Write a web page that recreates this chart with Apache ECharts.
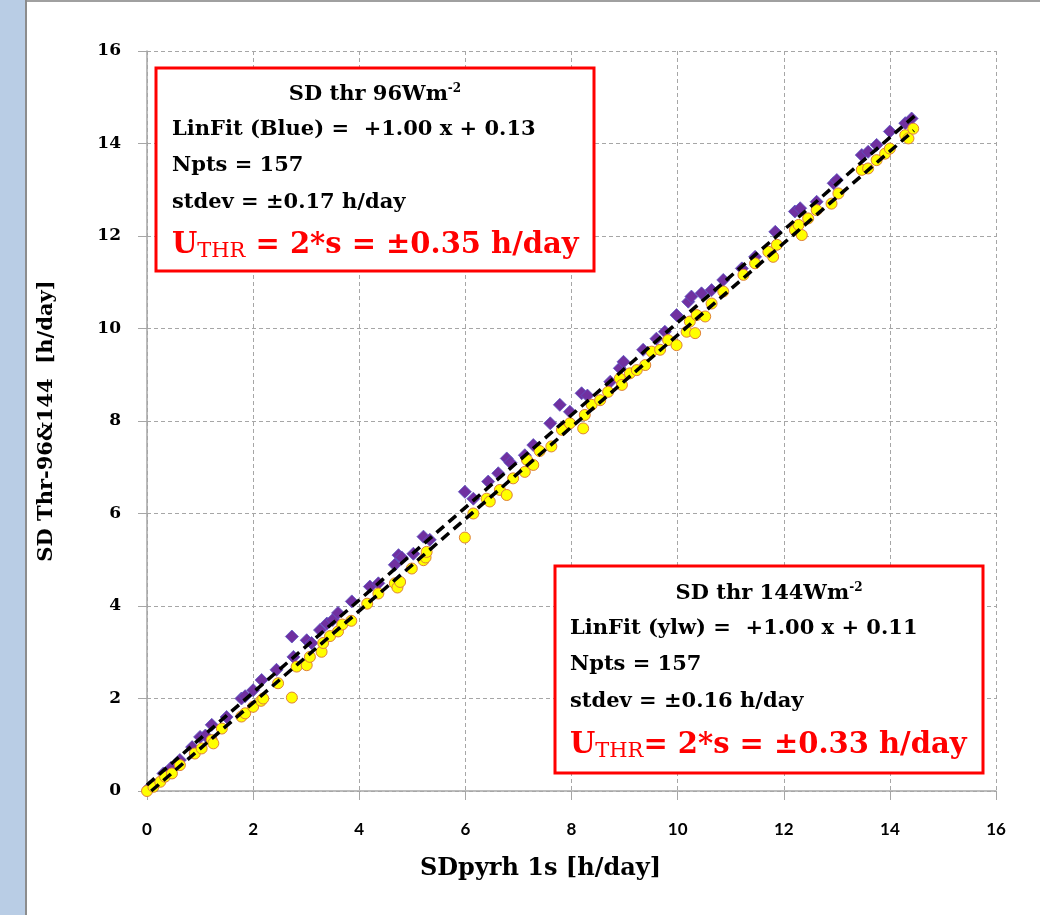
<!DOCTYPE html>
<html>
<head>
<meta charset="utf-8">
<script src="https://cdn.jsdelivr.net/npm/echarts@6/dist/echarts.min.js"></script>
<style>
html,body{margin:0;padding:0;background:#fff;}
#c{width:1040px;height:915px;}
</style>
</head>
<body>
<div id="c"></div>
<script>
// ---- data ----
var xTicks = [0, 2, 4, 6, 8, 10, 12, 14, 16];
var yTicks = [0, 2, 4, 6, 8, 10, 12, 14, 16];

// SD thr 96 W/m2 (purple diamonds) : [SDpyrh, SDthr]
var thr96 = [
 [0.05,0.08],[0.31,0.38],[0.45,0.5],[0.62,0.67],[0.85,0.95],[1.0,1.17],[1.1,1.2],[1.22,1.43],
 [1.5,1.6],[1.78,2.0],[1.85,2.05],[2.0,2.18],[2.16,2.4],[2.44,2.62],[2.73,3.34],[2.76,2.9],
 [3.01,3.26],[3.1,3.2],[3.26,3.48],[3.39,3.62],[3.5,3.7],[3.6,3.85],[3.86,4.1],[4.2,4.42],
 [4.36,4.49],[4.67,4.89],[4.74,5.1],[4.8,5.05],[5.02,5.13],[5.21,5.5],[5.33,5.43],[5.99,6.47],
 [6.15,6.32],[6.43,6.69],[6.62,6.87],[6.78,7.19],[6.85,7.1],[7.12,7.26],[7.28,7.48],[7.6,7.95],
 [7.78,8.35],[7.97,8.2],[8.19,8.6],[8.3,8.55],[8.73,8.85],[8.91,9.14],[8.98,9.28],[9.35,9.54],
 [9.6,9.78],[9.76,9.93],[9.98,10.29],[10.2,10.58],[10.26,10.69],[10.45,10.76],[10.64,10.83],
 [10.86,11.05],[11.21,11.3],[11.46,11.55],[11.84,12.09],[12.21,12.53],[12.31,12.6],[12.62,12.74],
 [12.94,13.14],[13.0,13.21],[13.47,13.75],[13.59,13.82],[13.75,13.97],[14.0,14.26],[14.29,14.44],
 [14.41,14.54]
];

// SD thr 144 W/m2 (yellow circles)
var thr144 = [
 [0,0],[0.12,0.09],[0.25,0.2],[0.34,0.31],[0.47,0.38],[0.62,0.56],[0.9,0.81],[1.03,0.92],
 [1.22,1.1],[1.25,1.03],[1.41,1.35],[1.78,1.61],[1.85,1.68],[2.0,1.82],[2.15,1.95],[2.19,2.0],
 [2.47,2.33],[2.73,2.02],[2.82,2.69],[3.01,2.72],[3.07,2.9],[3.29,3.01],[3.32,3.2],[3.45,3.35],
 [3.6,3.45],[3.68,3.6],[3.85,3.68],[4.15,4.05],[4.36,4.27],[4.67,4.49],[4.72,4.4],[4.77,4.52],
 [4.99,4.81],[5.21,4.99],[5.25,5.05],[5.27,5.17],[5.99,5.48],[6.15,6.0],[6.4,6.32],[6.46,6.26],
 [6.65,6.51],[6.78,6.4],[6.9,6.76],[7.12,6.9],[7.16,7.16],[7.28,7.05],[7.4,7.35],[7.62,7.45],
 [7.82,7.81],[7.97,7.95],[8.22,7.84],[8.25,8.13],[8.38,8.35],[8.54,8.45],[8.69,8.63],[8.91,8.92],
 [8.95,8.78],[9.1,9.03],[9.23,9.1],[9.39,9.21],[9.51,9.5],[9.67,9.54],[9.82,9.75],[9.98,9.64],
 [10.17,9.93],[10.23,10.15],[10.33,9.9],[10.36,10.29],[10.52,10.26],[10.64,10.54],[10.86,10.8],
 [11.24,11.16],[11.46,11.41],[11.71,11.66],[11.8,11.55],[11.87,11.81],[12.21,12.13],[12.28,12.24],
 [12.34,12.02],[12.46,12.38],[12.62,12.56],[12.9,12.7],[13.03,12.92],[13.47,13.43],[13.59,13.46],
 [13.75,13.64],[13.91,13.78],[14.0,13.89],[14.29,14.18],[14.35,14.11],[14.44,14.32]
];

// dashed fit lines (end points as drawn)
var fit96 = [[0, 0.13], [14.5, 14.63]];
var fit144 = [[0.08, 0.0], [14.45, 14.28]];

// text of the two boxes
var box96 = ['SD thr 96Wm', '-2', 'LinFit (Blue) =  +1.00 x + 0.13', 'Npts = 157', 'stdev = \u00b10.17 h/day', 'U', 'THR', ' = 2*s = \u00b10.35 h/day'];
var box144 = ['SD thr 144Wm', '-2', 'LinFit (ylw) =  +1.00 x + 0.11', 'Npts = 157', 'stdev = \u00b10.16 h/day', 'U', 'THR', '= 2*s = \u00b10.33 h/day'];

// ---- chart ----
var SERIF = '"DejaVu Serif", "Liberation Serif", serif';
var chart = echarts.init(document.getElementById('c'), null, {renderer: 'canvas'});

function boxGraphics(t, bx, by, bw, bh, tx, ys) {
  var rich = {
    a: {fontFamily: SERIF, fontWeight: 'bold', fontSize: 21, lineHeight: 24, fill: '#000', color: '#000'},
    s: {fontFamily: SERIF, fontWeight: 'bold', fontSize: 12, lineHeight: 12, verticalAlign: 'top', fill: '#000', color: '#000'},
    U: {fontFamily: SERIF, fontWeight: 'bold', fontSize: 29, lineHeight: 34, fill: '#ff0000', color: '#ff0000'},
    sub: {fontFamily: SERIF, fontWeight: 'normal', fontSize: 21, lineHeight: 14, verticalAlign: 'bottom', fill: '#ff0000', color: '#ff0000'}
  };
  var plain = function (txt, y) {
    return {type: 'text', z: 10, style: {x: tx, y: y, text: txt, font: 'bold 21px ' + SERIF, fill: '#000', align: 'left', verticalAlign: 'middle'}};
  };
  return [
    {type: 'rect', z: 9, shape: {x: bx, y: by, width: bw, height: bh}, style: {fill: '#fff', stroke: '#ff0000', lineWidth: 3}},
    {type: 'text', z: 10, style: {x: bx + bw / 2, y: ys[0], text: '{a|' + t[0] + '}{s|' + t[1] + '}', rich: rich, align: 'center', verticalAlign: 'middle'}},
    plain(t[2], ys[1]),
    plain(t[3], ys[2]),
    plain(t[4], ys[3]),
    {type: 'text', z: 10, style: {x: tx, y: ys[4], text: '{U|' + t[5] + '}{sub|' + t[6] + '}{U|' + t[7] + '}', rich: rich, align: 'left', verticalAlign: 'middle'}}
  ];
}

var graphics = [
  {type: 'rect', z: -10, silent: true, shape: {x: 0, y: 0, width: 25, height: 915}, style: {fill: '#b9cde5'}},
  {type: 'rect', z: -10, silent: true, shape: {x: 25, y: 0, width: 2, height: 915}, style: {fill: '#8c8c8c'}},
  {type: 'rect', z: -10, silent: true, shape: {x: 27, y: 0, width: 1013, height: 2}, style: {fill: '#a0a0a0'}}
].concat(
  boxGraphics(box96, 156, 68, 438, 203, 172, [95, 130, 166, 203, 245]),
  boxGraphics(box144, 555, 566, 428, 207, 570, [594, 629, 665, 702, 745])
);

var axisCommon = {
  type: 'value', min: 0, max: 16, interval: 2,
  axisLine: {show: true, lineStyle: {color: '#a6a6a6', width: 1.5}},
  axisTick: {show: true, inside: false, length: 9, lineStyle: {color: '#a6a6a6', width: 1}},
  splitLine: {show: true, lineStyle: {color: '#a6a6a6', width: 1, type: [4, 3]}}
};

var option = {
  animation: false,
  backgroundColor: '#ffffff',
  grid: {left: 147, top: 51, width: 849, height: 740, containLabel: false},
  xAxis: Object.assign({}, axisCommon, {
    name: 'SDpyrh 1s [h/day]',
    nameLocation: 'middle',
    nameGap: 66,
    nameTextStyle: {fontFamily: SERIF, fontWeight: 'bold', fontSize: 24, color: '#000', padding: [0, 62, 0, 0]},
    axisLabel: {margin: 30, fontFamily: 'Lato, "Open Sans", sans-serif', fontWeight: 'bold', fontSize: 17, color: '#000',
      formatter: function (v) { return xTicks.indexOf(v) >= 0 ? String(v) : ''; }}
  }),
  yAxis: Object.assign({}, axisCommon, {
    name: 'SD Thr-96&144  [h/day]',
    nameLocation: 'middle',
    nameGap: 90,
    nameTextStyle: {fontFamily: SERIF, fontWeight: 'bold', fontSize: 21, color: '#000'},
    axisLabel: {margin: 26, fontFamily: SERIF, fontWeight: 'bold', fontSize: 17, color: '#000',
      formatter: function (v) { return yTicks.indexOf(v) >= 0 ? String(v) : ''; }}
  }),
  graphic: graphics,
  series: [
    {type: 'scatter', name: 'SD thr 96', data: thr96, symbol: 'diamond', symbolSize: [13, 13], z: 2,
      itemStyle: {color: '#7030a0', borderColor: '#5b55c4', borderWidth: 0.8, opacity: 1}},
    {type: 'scatter', name: 'SD thr 144', data: thr144, symbol: 'circle', symbolSize: 11, z: 3,
      itemStyle: {color: '#ffff00', borderColor: '#e0803a', borderWidth: 1, opacity: 1}},
    {type: 'line', name: 'fit 96', data: fit96, showSymbol: false, symbol: 'none', z: 4,
      lineStyle: {color: '#000', width: 3.5, type: [10, 6]}},
    {type: 'line', name: 'fit 144', data: fit144, showSymbol: false, symbol: 'none', z: 4,
      lineStyle: {color: '#000', width: 3.5, type: [10, 6]}}
  ]
};
chart.setOption(option);
</script>
</body>
</html>
